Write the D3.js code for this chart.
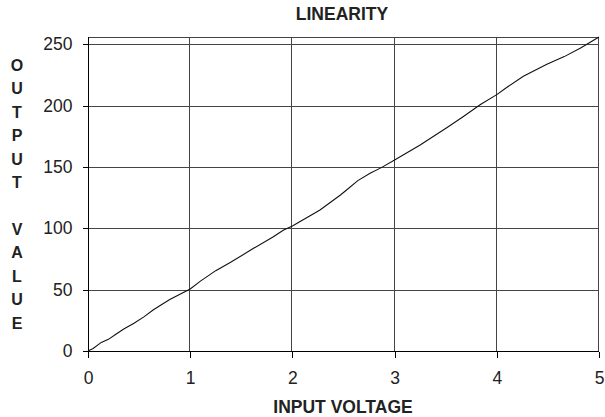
<!DOCTYPE html>
<html>
<head>
<meta charset="utf-8">
<script src="https://cdn.jsdelivr.net/npm/d3@7/dist/d3.min.js"></script>
<style>
  html, body { margin: 0; padding: 0; background: #fff; }
  svg { display: block; font-family: "Liberation Sans", Arial, sans-serif; }
</style>
</head>
<body>
<svg id="chart" width="605" height="417"></svg>
<script>
const chartTitle = "LINEARITY";
const xTitle = "INPUT VOLTAGE";
const yTitle = "OUTPUT VALUE";
const xTicks = [0, 1, 2, 3, 4, 5];
const yTicks = [0, 50, 100, 150, 200, 250];
const inputVoltage = [0, 0.05, 0.13, 0.2, 0.28, 0.35, 0.45, 0.55, 0.64, 0.8, 1.0, 1.1, 1.25, 1.4, 1.62, 1.81, 1.91, 2.0, 2.27, 2.47, 2.53, 2.64, 2.76, 2.87, 3.0, 3.25, 3.51, 3.67, 3.84, 4.0, 4.1, 4.26, 4.49, 4.66, 4.82, 5.0];
const outputValue = [0, 2, 7, 9.5, 14, 18, 22.7, 28, 33.6, 42, 50.6, 57, 65.5, 72.5, 83.7, 93, 98.5, 102, 115, 127.2, 131.3, 138.9, 144.9, 149.5, 155.7, 168, 182, 191, 201, 209, 215, 224, 233.7, 240, 247, 256];

const svg = d3.select("#chart");
const pLeft = 88, pRight = 599, pTop = 37, pBottom = 351;

const x = d3.scaleLinear().domain([0, 5]).range([pLeft, pRight]);
const y = d3.scaleLinear().domain([0, 256]).range([pBottom, pTop]);

// gridlines
const grid = svg.append("g").attr("stroke", "#444").attr("stroke-width", 1).attr("shape-rendering", "crispEdges");
grid.selectAll("line.h").data(yTicks.filter(d => d > 0)).join("line")
  .attr("x1", pLeft).attr("x2", pRight)
  .attr("y1", d => Math.round(y(d)) + 0.5).attr("y2", d => Math.round(y(d)) + 0.5);
grid.selectAll("line.v").data(xTicks.filter(d => d > 0)).join("line")
  .attr("y1", pTop).attr("y2", pBottom)
  .attr("x1", d => Math.round(x(d)) - 0.5).attr("x2", d => Math.round(x(d)) - 0.5);
grid.append("line").attr("x1", pLeft).attr("x2", pRight).attr("y1", pTop + 0.5).attr("y2", pTop + 0.5);

// axes
const fmt = d3.format("d");
const yAxis = d3.axisLeft(y).tickValues(yTicks).tickFormat(fmt).tickSize(6).tickPadding(10);
const xAxis = d3.axisBottom(x).tickValues(xTicks).tickFormat(fmt).tickSize(6).tickPadding(14);

const gy = svg.append("g").attr("transform", `translate(${pLeft + 0.5},0)`).call(yAxis);
const gx = svg.append("g").attr("transform", `translate(0,${pBottom + 0.5})`).call(xAxis);
[gx, gy].forEach(g => {
  g.select(".domain").attr("stroke", "#000").attr("shape-rendering", "crispEdges");
  g.selectAll(".tick line").attr("stroke", "#000").attr("shape-rendering", "crispEdges");
  g.selectAll(".tick text").attr("font-size", 17.5).attr("fill", "#222")
    .attr("font-family", "'Liberation Sans', Arial, sans-serif");
});
gy.select(".domain").attr("d", `M-6,${y(0)}H0V${pTop}`);
gx.select(".domain").attr("d", `M${pLeft},6V0H${pRight}`);

// line
const line = d3.line().x((d, i) => x(inputVoltage[i])).y(d => y(d));
svg.append("path").datum(outputValue)
  .attr("fill", "none").attr("stroke", "#111").attr("stroke-width", 1.1)
  .attr("d", line);

// titles
svg.append("text").attr("x", 342).attr("y", 19.5).attr("text-anchor", "middle")
  .attr("font-size", 17.5).attr("font-weight", "bold").attr("fill", "#222").text(chartTitle);
svg.append("text").attr("x", 343).attr("y", 413).attr("text-anchor", "middle")
  .attr("font-size", 17.5).attr("font-weight", "bold").attr("fill", "#222").text(xTitle);

// vertical stacked y title
const letters = yTitle.split("");
svg.append("g").selectAll("text").data(letters).join("text")
  .attr("x", 17)
  .attr("y", (d, i) => 65 + i * 23.45)
  .attr("dy", "0.36em")
  .attr("text-anchor", "middle")
  .attr("font-size", 16).attr("font-weight", "bold").attr("fill", "#222")
  .text(d => d);
</script>
</body>
</html>
